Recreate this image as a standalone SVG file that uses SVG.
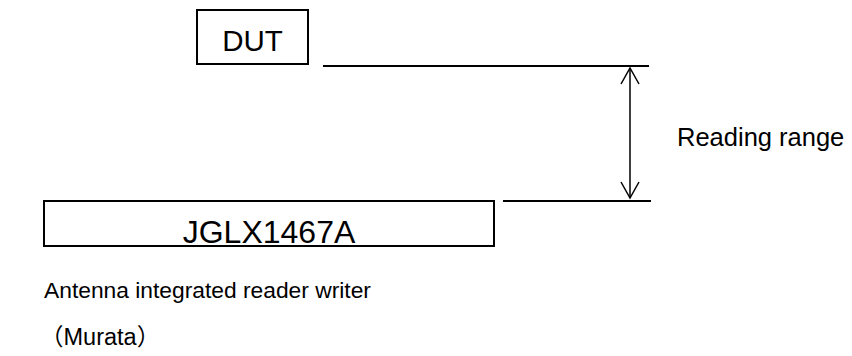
<svg xmlns="http://www.w3.org/2000/svg" width="852" height="356" viewBox="0 0 852 356">
<style>
.t{font-family:"Liberation Sans","Noto Sans CJK JP",Arial,sans-serif;fill:#000}
.box{fill:#fff;stroke:#000;stroke-width:2}
.ln{stroke:#000;stroke-width:2;fill:none}
.ar{stroke:#000;stroke-width:1.5;fill:none}
</style>
<defs>
<marker id="open" viewBox="0 0 20 20" refX="18" refY="10" markerWidth="20" markerHeight="20" markerUnits="userSpaceOnUse" orient="auto-start-reverse">
<path d="M2,1 L18,10 L2,19" fill="none" stroke="#000" stroke-width="1.5"/>
</marker>
</defs>
<g id="dut">
<rect class="box" x="197" y="10" width="111" height="54"/>
<text class="t" x="252.5" y="51" font-size="29.5" text-anchor="middle">DUT</text>
</g>
<g id="reader">
<rect class="box" x="44" y="201" width="450" height="45"/>
<text class="t" x="269" y="243" font-size="32" text-anchor="middle">JGLX1467A</text>
</g>
<g id="connectors">
<line class="ln" x1="323" y1="66" x2="649" y2="66"/>
<line class="ln" x1="503" y1="201" x2="651" y2="201"/>
<line class="ar" x1="630" y1="68" x2="630" y2="198" marker-start="url(#open)" marker-end="url(#open)"/>
</g>
<g id="labels">
<text class="t" x="677" y="146" font-size="25.5">Reading range</text>
<text class="t" x="44" y="298" font-size="22.8">Antenna integrated reader writer</text>
<text class="t" x="40" y="345" font-size="23.5">（Murata）</text>
</g>
</svg>
